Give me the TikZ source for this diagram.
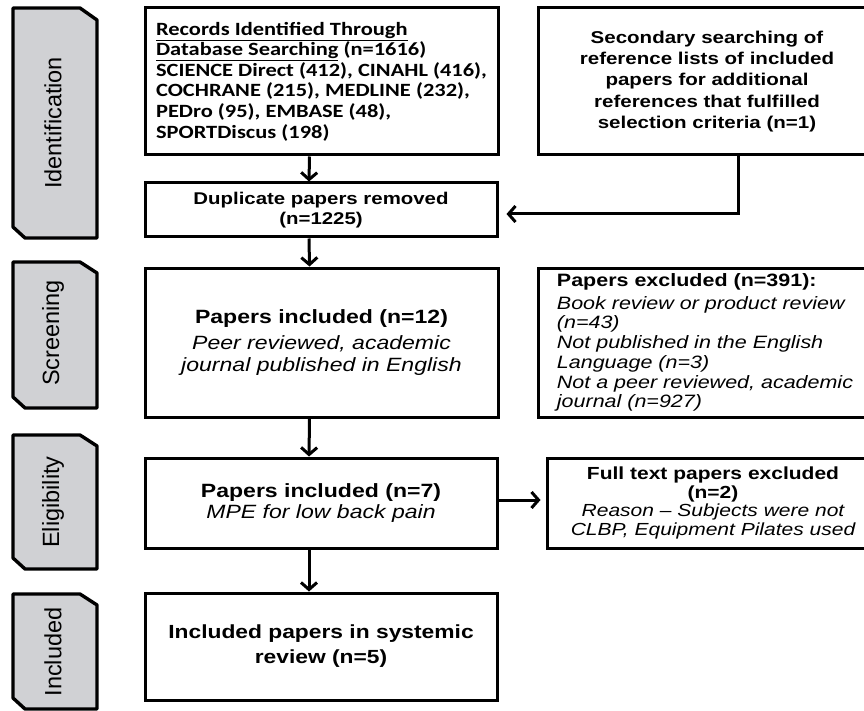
\documentclass[tikz,border=0pt]{standalone}
\usepackage{fontspec}
\setmainfont{Liberation Sans}[FakeStretch=1.2]
\newfontfamily\calibrifont{Carlito}[FakeStretch=1.2]
\newfontfamily\stagefont{Liberation Sans}
\usepackage{xcolor}
\usetikzlibrary{arrows.meta}
\definecolor{stagegray}{RGB}{208,209,212}

\begin{document}
\begin{tikzpicture}[x=1pt,y=-1pt,
		stage/.style={fill=stagegray,draw=black,line width=3.4pt,line join=round},
		stagelabel/.style={rotate=90,inner sep=0pt,font=\stagefont\fontsize{23.5}{26}\selectfont},
		box/.style={draw=black,line width=3pt,fill=white,align=center,inner sep=0pt},
		link/.style={line width=3pt,-{Straight Barb[length=7pt,width=16pt]}}]
		\useasboundingbox (0,0) rectangle (864,711);
		\clip (0,0) rectangle (864,711);

		\draw[stage] (13,8) -- (80,8) -- (97,20) -- (97,238) -- (25,238) -- (13,227) -- cycle;
		\draw[stage] (13,262) -- (80,262) -- (97,273) -- (97,408) -- (25,408) -- (13,397) -- cycle;
		\draw[stage] (13,435) -- (80,435) -- (97,446) -- (97,569) -- (25,569) -- (13,558) -- cycle;
		\draw[stage] (13,594) -- (80,594) -- (97,605) -- (97,709) -- (25,709) -- (13,698) -- cycle;
		\node[stagelabel] (identlab) at (53,123) {Identification};
		\node[stagelabel] (screenlab) at (53,333) {Screening};
		\node[stagelabel] (eliglab) at (53,502) {Eligibility};
		\node[stagelabel] (incllab) at (53,652) {Included};

		\node[box,align=left,minimum width=353pt,minimum height=147pt,
			font=\calibrifont\bfseries\fontsize{18.7}{20.6}\selectfont] (records) at (321.5,81.5)
			{\underline{Records Identified Through}\\
			\underline{Database Searching} (n=1616)\\
			SCIENCE Direct (412), CINAHL (416),\\
			COCHRANE (215), MEDLINE (232),\\
			PEDro (95), EMBASE (48),\\
			SPORTDiscus (198)};
		\node[box,minimum width=338pt,minimum height=147pt,
			font=\bfseries\fontsize{17.1}{21.2}\selectfont] (second) at (707,81.5)
			{Secondary searching of\\ reference lists of included\\ papers for additional\\
			references that fulfilled\\ selection criteria (n=1)};
		\node[box,minimum width=352pt,minimum height=54pt,
			font=\bfseries\fontsize{17}{20}\selectfont] (dup) at (321,210)
			{Duplicate papers removed\\ (n=1225)};
		\node[box,minimum width=353pt,minimum height=149pt,
			font=\fontsize{19.2}{21.5}\selectfont] (screen) at (321.5,342.5)
			{{\bfseries Papers included (n=12)}\\[5pt]
			{\itshape Peer reviewed, academic}\\
			{\itshape journal published in English}};
		\node[box,align=left,minimum width=334pt,minimum height=149pt,
			font=\fontsize{17.9}{19.7}\selectfont] (excl) at (705,342.5)
			{{\bfseries Papers excluded (n=391):}\\[3pt]
			{\itshape Book review or product review}\\
			{\itshape (n=43)}\\
			{\itshape Not published in the English}\\
			{\itshape Language (n=3)}\\
			{\itshape Not a peer reviewed, academic}\\
			{\itshape journal (n=927)}};
		\node[box,minimum width=352pt,minimum height=90pt,
			font=\fontsize{19.2}{21.7}\selectfont] (elig) at (321,503)
			{{\bfseries Papers included (n=7)}\\
			{\itshape MPE for low back pain}};
		\node[box,minimum width=332pt,minimum height=90pt,
			font=\fontsize{17.5}{18.7}\selectfont] (full) at (713,503)
			{{\bfseries Full text papers excluded}\\
			{\bfseries (n=2)}\\
			{\itshape Reason -- Subjects were not}\\
			{\itshape CLBP, Equipment Pilates used}};
		\node[box,minimum width=352pt,minimum height=107pt,
			font=\bfseries\fontsize{19}{25}\selectfont] (incl) at (321,646.5)
			{Included papers in systemic\\ review (n=5)};

		\draw[link] ([xshift=-12pt]records.south) -- ([xshift=-12pt]dup.north);
		\draw[link] ([xshift=-12pt]dup.south) -- ([xshift=-12pt]screen.north);
		\draw[link] ([xshift=-12pt]screen.south) -- ([xshift=-12pt]elig.north);
		\draw[link] ([xshift=-12pt]elig.south) -- ([xshift=-12pt]incl.north);
		\draw[link,shorten >=5pt] ([yshift=3pt]elig.east) -- ([yshift=3pt]full.west);
		\draw[link,shorten >=8pt] ([xshift=31pt]second.south) |- ([yshift=-4pt]dup.east);

\end{tikzpicture}
\end{document}
